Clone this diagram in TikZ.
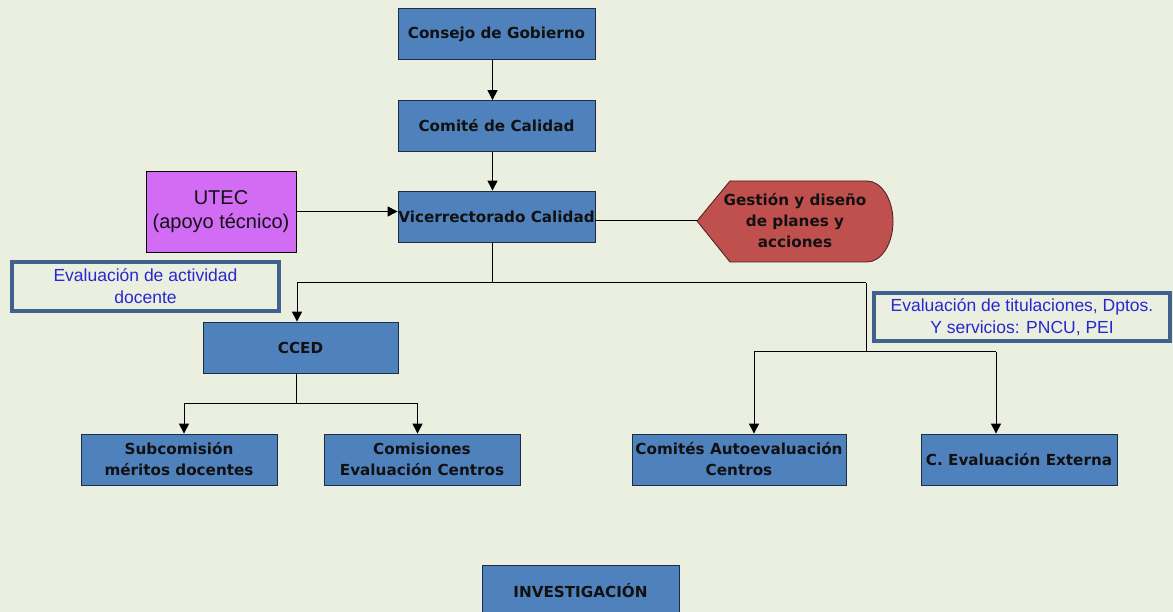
\documentclass[tikz,border=0pt]{standalone}
\usepackage{fontspec}
\setmainfont{DejaVu Sans}
\newfontfamily\arialf{Liberation Sans}
\usetikzlibrary{arrows.meta}
\definecolor{bg}{HTML}{EBEFDF}
\definecolor{boxblue}{HTML}{4F81BD}
\definecolor{boxedge}{HTML}{1C2E45}
\definecolor{utecc}{HTML}{D36CF5}
\definecolor{redf}{HTML}{C0504D}
\definecolor{rededge}{HTML}{4A1C1C}
\definecolor{lblue}{HTML}{2828D0}
\definecolor{frameA}{HTML}{41618F}
\definecolor{txt}{HTML}{111111}
\begin{document}
\begin{tikzpicture}[x=1pt,y=-1pt,
  bbox/.style={draw=boxedge, line width=0.8pt, fill=boxblue, minimum width=197pt, minimum height=51pt, inner sep=0pt, align=center, font=\fontsize{15.2}{21}\selectfont\bfseries, text=txt},
  lab/.style={draw=frameA, line width=3.4pt, inner sep=0pt, align=center, font=\arialf\fontsize{17.5}{22}\selectfont, text=lblue},
  arr/.style={-{Triangle[length=10pt,width=10pt]}, line width=1pt},
  ln/.style={line width=1pt}]
\useasboundingbox (0,0) rectangle (1173,612);
\fill[bg] (0,0) rectangle (1173,612);
\clip (0,0) rectangle (1173,612);

% main chain
\node[bbox] (cg) at (496.5,34) {Consejo de Gobierno};
\node[bbox] (cc) at (496.5,126) {Comité de Calidad};
\node[bbox] (vc) at (496.5,216.5) {Vicerrectorado Calidad};

% UTEC
\node[draw=black, line width=0.8pt, fill=utecc, minimum width=150pt, minimum height=81pt, inner sep=0pt, align=center, font=\arialf\fontsize{20}{24}\selectfont, text=txt] (utec) at (221,211.5) {UTEC\\(apoyo técnico)};

% red shape
\draw[fill=redf, draw=rededge, line width=0.8pt] (697,221) -- (730,181) -- (867,181)
  .. controls (881.4,181) and (893,199.1) .. (893,221.5)
  .. controls (893,243.9) and (881.4,262) .. (867,262) -- (730,262) -- cycle;
\coordinate (gtip) at (697,221);
\node[align=center, font=\fontsize{15.2}{21}\selectfont\bfseries, text=txt, inner sep=0pt] (gest) at (795,221) {Gestión y diseño\\de planes y\\acciones};

% labels
\node[lab, minimum width=267pt, minimum height=49pt] (lab1) at (145.5,286.5) {Evaluación de actividad\\docente};
\node[lab, minimum width=296pt, minimum height=48pt] (lab2) at (1022,317) {Evaluación de titulaciones, Dptos.\\Y servicios: PNCU, PEI};

% second level
\node[bbox, minimum width=195pt] (cced) at (300.5,347.5) {CCED};
\node[bbox, minimum width=196pt] (sub) at (179,459.5) {Subcomisión\\méritos docentes};
\node[bbox, minimum width=196pt] (com) at (422,459.5) {Comisiones\\Evaluación Centros};
\node[bbox, minimum width=214pt] (cae) at (739,459.5) {Comités Autoevaluación\\Centros};
\node[bbox, minimum width=196pt] (cee) at (1019,459.5) {C. Evaluación Externa};
\node[bbox] (inv) at (580.5,590.5) {INVESTIGACIÓN};

% connectors
\draw[arr] ([xshift=-4pt]cg.south) -- ([xshift=-4pt]cc.north);
\draw[arr] ([xshift=-4pt]cc.south) -- ([xshift=-4pt]vc.north);
\draw[arr] (utec.east) -- (utec.east -| vc.west);
\draw[ln] (vc.east |- gtip) -- (gtip);

\coordinate (j1) at (492,283);
\coordinate (jl) at (297,283);
\coordinate (jr) at (866,283);
\draw[ln] (j1 |- vc.south) -- (j1);
\draw[ln] (jl) -- (jr);
\draw[arr] (jl) -- (jl |- cced.north);

\coordinate (k1) at (866,352);
\coordinate (kl) at (754,352);
\coordinate (kr) at (996,352);
\draw[ln] (jr) -- (k1);
\draw[ln] (kl) -- (kr);
\draw[arr] (kl) -- (kl |- cae.north);
\draw[arr] (kr) -- (kr |- cee.north);

\coordinate (m0) at (296,403);
\coordinate (ml) at (184,403);
\coordinate (mr) at (417.5,403);
\draw[ln] (m0 |- cced.south) -- (m0);
\draw[ln] (ml) -- (mr);
\draw[arr] (ml) -- (ml |- sub.north);
\draw[arr] (mr) -- (mr |- com.north);
\end{tikzpicture}
\end{document}
